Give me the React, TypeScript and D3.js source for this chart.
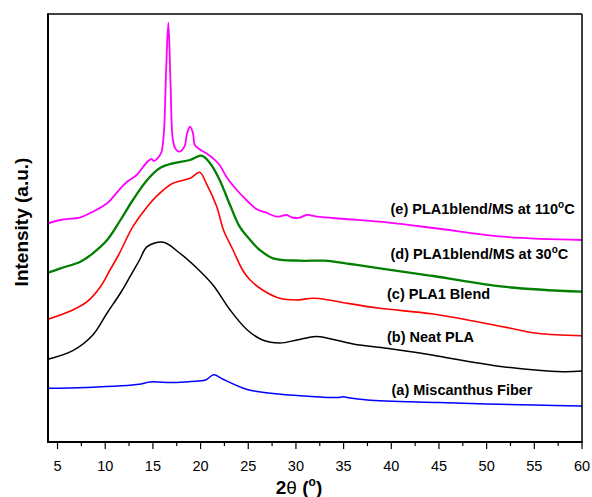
import React from "react";
import * as d3 from "d3";

const W = 592;
const H = 497;

const xTicks = [5, 10, 15, 20, 25, 30, 35, 40, 45, 50, 55, 60];
const xMinorTicks = [7.5, 12.5, 17.5, 22.5, 27.5, 32.5, 37.5, 42.5, 47.5, 52.5, 57.5];

// (a) Miscanthus Fiber
const thetaA = [4, 8, 13.6, 14.7, 17, 19, 20.5, 21.4, 22.3, 24.9, 27.6, 31, 34.5, 35, 35.5, 37.5, 45, 50, 55, 60];
const intA = [53.7, 54.5, 57.7, 60, 59.5, 60.5, 62, 67.3, 63, 52.5, 48.5, 46, 44.5, 45.3, 44.3, 42, 39.5, 38, 37, 36];

// (b) Neat PLA
const thetaB = [4, 6.6, 8.7, 10.2, 11.6, 12.6, 13.6, 14.4, 16.1, 17.8, 19.6, 21.3, 23.1, 24.9, 26.5, 28.3, 30.1, 31.8, 32.5, 36, 39.5, 43, 44.8, 51.7, 58, 60];
const intB = [82.7, 91.3, 107, 129, 149, 165.3, 182, 195.3, 199.7, 189, 174, 157, 132, 112, 102, 99, 102, 105.3, 105.3, 98, 93.7, 89, 86, 75.3, 70.3, 71];

// (c) PLA1 Blend
const thetaC = [4, 6.6, 8.1, 9.5, 10.5, 11.4, 12.9, 14.4, 15.7, 17.1, 18.9, 19.9, 20.6, 21.7, 22.4, 23.4, 24.4, 25.2, 26.5, 28.3, 30, 31.8, 33.5, 35.4, 38.8, 44.4, 51.7, 55.3, 60];
const intC = [122.7, 132, 140.3, 155.3, 172, 187, 215.3, 235.3, 248.7, 258.7, 263.7, 269.7, 258.7, 235.3, 212, 192, 172, 162, 152, 143.7, 142, 143.7, 142, 138.7, 133.7, 128, 115.3, 108.7, 106.3];

// (d) PLA1blend/MS at 30°C
const thetaD = [4, 5.3, 7.4, 8.7, 10.2, 11.6, 12.9, 14.4, 15.7, 17.1, 18.9, 20.1, 21, 22, 23.1, 24.1, 25.2, 26.2, 27.6, 30.4, 33, 35.7, 38.8, 44.4, 51.7, 60];
const intD = [169.3, 173.7, 180.3, 188.7, 202, 222, 242, 262, 273.7, 278.7, 282, 286.3, 278.7, 262, 236.7, 215.3, 202, 192, 183.7, 181.3, 181.3, 178, 173.7, 166, 155.3, 150.3];

// (e) PLA1blend/MS at 110°C
const thetaE = [4, 5.3, 7.4, 8.7, 10.2, 11.6, 12.3, 13.3, 14.4, 14.85, 15.1, 15.6, 15.9, 16.15, 16.4, 16.62, 16.85, 17.1, 17.4, 17.8, 18.3, 18.6, 18.9, 19.2, 19.4, 19.9, 20.6, 21.3, 22, 22.7, 23.8, 24.8, 25.9, 26.9, 28, 29, 29.6, 30.4, 31.1, 32.2, 35.2, 38.8, 44.4, 51.7, 60];
const intE = [218.7, 222, 224.7, 230.3, 238.7, 253.7, 260.3, 267, 280, 283, 281, 285, 290, 309, 375, 419.3, 359, 302, 292.7, 290.3, 295.3, 309, 315.3, 309, 297, 292.7, 288.7, 283.7, 277, 265.3, 252, 242, 232.7, 229.3, 225.3, 227, 224.5, 224.3, 227, 225.3, 223, 220.3, 214, 205.3, 202];

const seriesColors = ["#0000ff", "#000000", "#ff0000", "#007f00", "#ff00ff"];
const seriesWidths = [1.5, 1.5, 1.6, 2.3, 1.8];

const x = d3.scaleLinear().domain([4, 60]).range([48, 582]);
const y = d3.scaleLinear().domain([0, 428]).range([442, 14]);

const line = d3
  .line<[number, number]>()
  .x((d) => x(d[0]))
  .y((d) => y(d[1]))
  .curve(d3.curveCatmullRom.alpha(0.5));

const zip = (a: number[], b: number[]) => a.map((v, i) => [v, b[i]] as [number, number]);

const series = [
  zip(thetaA, intA),
  zip(thetaB, intB),
  zip(thetaC, intC),
  zip(thetaD, intD),
  zip(thetaE, intE),
];

const font = "'Liberation Sans', Arial, Helvetica, sans-serif";

export default function App() {
  const labelStyle = { fontFamily: font, fontWeight: 700, fontSize: 14.5 } as const;
  return (
    <svg width={W} height={H} style={{ position: "absolute", left: 0, top: 0, background: "#fff" }}>
      <rect x={0} y={0} width={W} height={H} fill="#fff" />
      {series.map((s, i) => (
        <path key={i} d={line(s) || ""} fill="none" stroke={seriesColors[i]} strokeWidth={seriesWidths[i]} strokeLinejoin="round" />
      ))}
      {/* frame */}
      <line x1={48} x2={582} y1={14} y2={14} stroke="#000" strokeWidth={1.5} />
      <line x1={582} x2={582} y1={14} y2={442} stroke="#000" strokeWidth={1.5} />
      <line x1={48} x2={48} y1={13.25} y2={443} stroke="#000" strokeWidth={2} />
      <line x1={47} x2={582.75} y1={442} y2={442} stroke="#000" strokeWidth={2} />
      {xTicks.map((t) => (
        <g key={t}>
          <line x1={x(t)} x2={x(t)} y1={442} y2={449} stroke="#000" strokeWidth={1.2} />
          <text x={x(t)} y={471} textAnchor="middle" style={{ fontFamily: font, fontSize: 14.5 }}>
            {t}
          </text>
        </g>
      ))}
      {xMinorTicks.map((t) => (
        <line key={t} x1={x(t)} x2={x(t)} y1={442} y2={446} stroke="#000" strokeWidth={1.2} />
      ))}
      <text x={299} y={494} textAnchor="middle" style={{ fontFamily: font, fontSize: 19, fontWeight: 700 }}>
        2<tspan fontWeight={400}>θ</tspan> (<tspan fontSize={12} dy={-8}>o</tspan><tspan dy={8}>)</tspan>
      </text>
      <text
        transform={`translate(28,222) rotate(-90)`}
        textAnchor="middle"
        style={{ fontFamily: font, fontSize: 19, fontWeight: 700 }}
      >
        Intensity (a.u.)
      </text>
      <text x={390.5} y={213.5} style={labelStyle}>
        (e) PLA1blend/MS at 110<tspan fontSize={10} dy={-6}>o</tspan><tspan dy={6}>C</tspan>
      </text>
      <text x={390.5} y={258.5} style={labelStyle}>
        (d) PLA1blend/MS at 30<tspan fontSize={10} dy={-6}>o</tspan><tspan dy={6}>C</tspan>
      </text>
      <text x={387} y={299} style={labelStyle}>
        (c) PLA1 Blend
      </text>
      <text x={387} y={341.5} style={labelStyle}>
        (b) Neat PLA
      </text>
      <text x={391.5} y={395} style={labelStyle}>
        (a) Miscanthus Fiber
      </text>
    </svg>
  );
}
